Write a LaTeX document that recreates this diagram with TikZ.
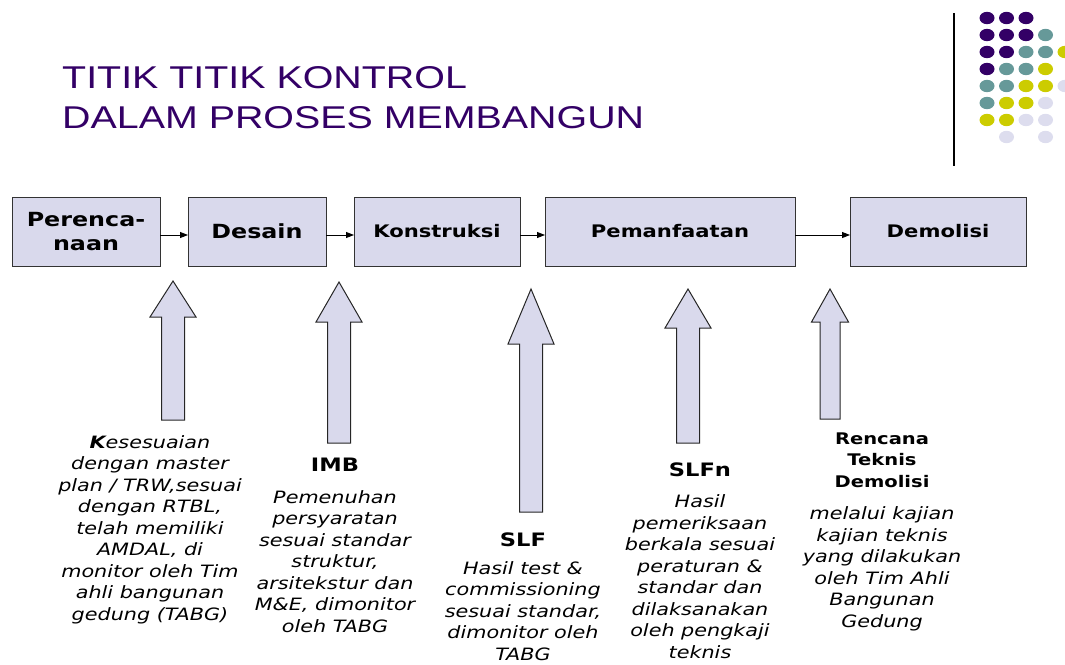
\documentclass[tikz,border=0pt]{standalone}
\usepackage{fontspec}
\setmainfont[FakeStretch=1.22]{DejaVu Sans}
\newfontfamily\titlefont[FakeStretch=1.25]{Liberation Sans}
\usetikzlibrary{arrows.meta}

\definecolor{titlepurple}{RGB}{51,0,102}
\definecolor{dotP}{RGB}{51,0,102}
\definecolor{dotT}{RGB}{102,153,153}
\definecolor{dotY}{RGB}{204,204,0}
\definecolor{dotL}{RGB}{221,221,238}
\definecolor{boxfill}{RGB}{217,217,236}

\tikzset{
    phase/.style={draw=black!80, fill=boxfill, line width=1pt, inner sep=0pt, outer sep=0pt,
        minimum height=69pt, align=center},
    flow/.style={-{Triangle[length=8pt,width=6pt]}, line width=0.9pt},
    blockarrow/.style={draw=black!85, fill=boxfill, line width=1pt, line join=miter},
    checkname/.style={anchor=base, inner sep=0pt, align=center, font=\fontsize{18.5}{22}\selectfont\bfseries},
    checktext/.style={anchor=base, inner sep=0pt, align=center, font=\fontsize{17}{21.5}\selectfont\itshape},
}

\begin{document}
\begin{tikzpicture}[x=1pt, y=-1pt]
        \useasboundingbox (0,0) rectangle (1065,664);
        % Title (anchored at the baseline of its last line)
        \node[anchor=base west, inner sep=0pt, align=left, text=titlepurple,
            font=\titlefont\fontsize{31.5}{40}\selectfont] (title) at (62,128)
            {TITIK TITIK KONTROL\\DALAM PROSES MEMBANGUN};
        % Corner dots and rule
        \draw[line width=1.1pt] (954,13) -- (954,166);
        \foreach \c/\r/\col in {1/1/P, 2/1/P, 3/1/P,
                1/2/P, 2/2/P, 3/2/P, 4/2/T,
                1/3/P, 2/3/P, 3/3/T, 4/3/T, 5/3/Y,
                1/4/P, 2/4/T, 3/4/T, 4/4/Y,
                1/5/T, 2/5/T, 3/5/Y, 4/5/Y, 5/5/L,
                1/6/T, 2/6/Y, 3/6/Y, 4/6/L,
                1/7/Y, 2/7/Y, 3/7/L, 4/7/L,
                2/8/L, 4/8/L} {
            \fill[dot\col] (987+19.5*\c-19.5, 18+17*\r-17) ellipse [x radius=7.5, y radius=6.2];
        }
        % Draw phases
        \foreach \n/\x/\w/\s/\t in {b1/86/148/19.5/{Perenca-\\naan}, b2/257/138/19.5/Desain,
                b3/437/166/17.3/Konstruksi, b4/670/250/17.3/Pemanfaatan, b5/938/176/17.3/Demolisi} {
            \node[phase, minimum width=\w pt, font=\fontsize{\s}{24}\selectfont\bfseries] (\n) at (\x,231.5) {\t};
        }
        \foreach \a/\b in {b1/b2, b2/b3, b3/b4, b4/b5} {
            \draw[flow] ([yshift=-3.5pt]\a.east) -- ([yshift=-3.5pt]\b.west);
        }
        % Draw up arrows
        \foreach \x/\t/\h/\hw/\sw/\b in {173/281/317/23/11.5/420, 339/282/322/23/11.5/443,
                531/289/344/23/11.5/512, 688/289/328/23/11.5/443, 830/289/322/18.5/10/419} {
            \filldraw[blockarrow] (\x,\t) -- (\x+\hw,\h) -- (\x+\sw,\h) -- (\x+\sw,\b)
                -- (\x-\sw,\b) -- (\x-\sw,\h) -- (\x-\hw,\h) -- cycle;
        }
        % Check points (multi-line texts sit on the baseline of their last line)
        \node[checktext] (kesesuaian) at (150,620) {\textbf{K}esesuaian\\dengan master\\plan / TRW,sesuai\\dengan RTBL,\\telah memiliki\\AMDAL, di\\monitor oleh Tim\\ahli bangunan\\gedung (TABG)};
        \node[checkname] (imb) at (335,471) {IMB};
        \node[checktext] (imbtext) at (335,632) {Pemenuhan\\persyaratan\\sesuai standar\\struktur,\\arsitekstur dan\\M\&E, dimonitor\\oleh TABG};
        \node[checkname] (slf) at (523,546) {SLF};
        \node[checktext] (slftext) at (523,660) {Hasil test \&\\commissioning\\sesuai standar,\\dimonitor oleh\\TABG};
        \node[checkname] (slfn) at (700,476) {SLFn};
        \node[checktext] (slfntext) at (700,658) {Hasil\\pemeriksaan\\berkala sesuai\\peraturan \&\\standar dan\\dilaksanakan\\oleh pengkaji\\teknis};
        \node[checkname, font=\fontsize{16}{21.5}\selectfont\bfseries] (rencana) at (882,487) {Rencana\\Teknis\\Demolisi};
        \node[checktext] (rencanatext) at (882,627) {melalui kajian\\kajian teknis\\yang dilakukan\\oleh Tim Ahli\\Bangunan\\Gedung};
\end{tikzpicture}
\end{document}
